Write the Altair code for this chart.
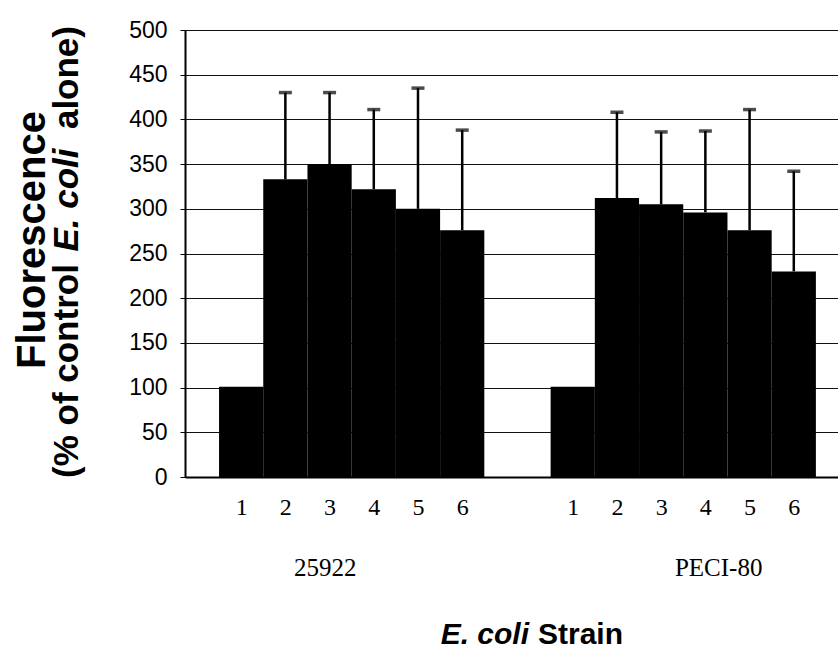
import altair as alt
import pandas as pd

# ---- data ----
strains = ["25922", "PECI-80"]
bar_numbers = [1, 2, 3, 4, 5, 6]
means_25922 = [101, 333, 350, 322, 300, 276]
upper_25922 = [None, 430, 430, 411, 435, 388]
means_peci80 = [101, 312, 305, 296, 276, 230]
upper_peci80 = [None, 408, 386, 387, 411, 342]
group_offset = [0.0, 7.5]          # slot offset of each strain group on the x scale
strain_label_slot = [2.9, 11.8]    # where the strain names sit on the x scale
y_ticks = list(range(0, 501, 50))

rows = []
for s, off, means, ups in [
    (strains[0], group_offset[0], means_25922, upper_25922),
    (strains[1], group_offset[1], means_peci80, upper_peci80),
]:
    for n, m, u in zip(bar_numbers, means, ups):
        rows.append({"strain": s, "num": n, "pos": n + off, "mean": m, "upper": u})
df = pd.DataFrame(rows)
df["lo"] = df["pos"] - 0.5
df["hi"] = df["pos"] + 0.5

label_df = pd.DataFrame({"pos": strain_label_slot, "name": strains})

xscale = alt.Scale(domain=[-0.27, 14.5], nice=False, zero=False)
yscale = alt.Scale(domain=[0, 500], nice=False)

tick_positions = df["pos"].tolist()

bars = alt.Chart(df).mark_rect(color="black").encode(
    x=alt.X("lo:Q", scale=xscale, axis=alt.Axis(
        values=tick_positions,
        labelExpr="datum.value > 7 ? format(datum.value - 7.5, 'd') : format(datum.value, 'd')",
        grid=False, ticks=False, domain=True, domainColor="black", domainWidth=2,
        labelFont="Liberation Serif", labelFontSize=24, labelColor="black",
        labelPadding=18, title=None)),
    x2="hi:Q",
    y=alt.Y("mean:Q", scale=yscale, axis=alt.Axis(
        values=y_ticks, grid=True, gridColor="#111", gridWidth=1,
        domain=True, domainColor="black", domainWidth=2,
        ticks=True, tickColor="black", tickSize=5, tickWidth=1,
        labelFont="Liberation Sans", labelFontSize=23, labelColor="black",
        labelPadding=13, title=None)),
    y2=alt.datum(0),
)

err = alt.Chart(df).transform_filter("datum.upper != null").mark_rule(
    color="black", strokeWidth=2.5).encode(
    x=alt.X("pos:Q", scale=xscale), y=alt.Y("mean:Q", scale=yscale), y2="upper:Q")

caps = alt.Chart(df).transform_filter("datum.upper != null").mark_tick(
    color="black", orient="horizontal", size=13, thickness=3.5).encode(
    x=alt.X("pos:Q", scale=xscale), y=alt.Y("upper:Q", scale=yscale))

strain_labels = alt.Chart(label_df).mark_text(
    font="Liberation Serif", fontSize=25, color="black", baseline="middle").encode(
    x=alt.X("pos:Q", scale=xscale), y=alt.value(538), text="name:N")

one = pd.DataFrame({"k": [0]})

xt1 = alt.Chart(one).mark_text(text="E. coli", font="Liberation Sans", fontSize=30,
                               fontWeight="bold", fontStyle="italic", align="right",
                               baseline="alphabetic", color="black").encode(
    x=alt.value(344), y=alt.value(614))
xt2 = alt.Chart(one).mark_text(text="Strain", font="Liberation Sans", fontSize=30,
                               fontWeight="bold", align="left",
                               baseline="alphabetic", color="black").encode(
    x=alt.value(353), y=alt.value(614))

yt1 = alt.Chart(one).mark_text(text="Fluorescence", font="Liberation Sans", fontSize=40,
                               fontWeight="bold", angle=270, align="center",
                               baseline="alphabetic", color="black").encode(
    x=alt.value(-140), y=alt.value(210))
yt2a = alt.Chart(one).mark_text(text="(% of control", font="Liberation Sans", fontSize=35,
                                fontWeight="bold", angle=270, align="left",
                                baseline="alphabetic", color="black").encode(
    x=alt.value(-107), y=alt.value(448))
yt2b = alt.Chart(one).mark_text(text="E. coli", font="Liberation Sans", fontSize=35,
                                fontWeight="bold", fontStyle="italic", angle=270,
                                align="center", baseline="alphabetic", color="black").encode(
    x=alt.value(-107), y=alt.value(170))
yt2c = alt.Chart(one).mark_text(text="alone)", font="Liberation Sans", fontSize=35,
                                fontWeight="bold", angle=270, align="right",
                                baseline="alphabetic", color="black").encode(
    x=alt.value(-107), y=alt.value(-4))

chart = alt.layer(bars, err, caps, strain_labels, xt1, xt2, yt1, yt2a, yt2b, yt2c).properties(
    width=653, height=447,
    padding={"left": 185, "top": 30, "right": 0, "bottom": 173},
    autosize=alt.AutoSizeParams(type="none"),
    background="white",
).configure_view(stroke=None)

chart.save("out.html", embed_options={"renderer": "svg", "actions": False})
